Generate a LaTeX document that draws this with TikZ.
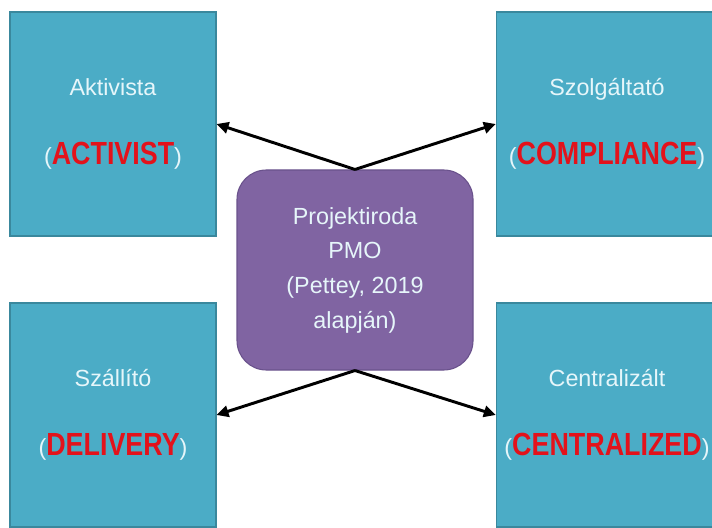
\documentclass[tikz,border=0pt]{standalone}
\usepackage{fontspec}
\setmainfont{Liberation Sans}
\newfontfamily\condbf[FakeStretch=0.84]{Liberation Sans Bold}
\usepackage{xcolor}
\usetikzlibrary{positioning, arrows.meta}

\definecolor{boxteal}{HTML}{4BACC6}
\definecolor{boxedge}{HTML}{3A889D}
\definecolor{pmopurple}{HTML}{8064A2}
\definecolor{pmoedge}{HTML}{6A528C}
\definecolor{paletext}{HTML}{E6F6FA}
\definecolor{typered}{HTML}{E3121B}

\newcommand{\typename}[1]{({\condbf\fontsize{24}{26}\selectfont\color{typered}#1})}

\begin{document}
\begin{tikzpicture}[
    x=0.75pt, y=-0.75pt,
    type/.style={rectangle, draw=boxedge, line width=0.8pt, fill=boxteal, text=paletext, minimum width=154.5pt, minimum height=168pt, align=center, font=\fontsize{17.5}{26}\selectfont},
    pmo/.style={rectangle, draw=pmoedge, line width=0.8pt, fill=pmopurple, text=paletext, minimum width=177pt, minimum height=150pt, rounded corners=22pt, align=center, font=\fontsize{17.5}{26}\selectfont},
    link/.style={line width=2.2pt, -{Triangle[length=9pt, width=8.5pt]}}
]
    \useasboundingbox (0,0) rectangle (712,527);

    % Four PMO types
    \node[type] (activist) at (113,124) {Aktivista\\[26pt]\typename{ACTIVIST}};
    \node[type, minimum width=166pt] (compliance) at (607,124) {Szolgáltató\\[26pt]\typename{COMPLIANCE}};
    \node[type] (delivery) at (113,415) {Szállító\\[26pt]\typename{DELIVERY}};
    \node[type, minimum width=166pt] (centralized) at (607,415) {Centralizált\\[26pt]\typename{CENTRALIZED}};

    % Central box
    \node[pmo] (office) at (355,270) {Projektiroda\\PMO\\(Pettey, 2019\\alapján)};

    % Arrows
    \draw[link] (office.north) -- (activist.east);
    \draw[link] (office.north) -- (compliance.west);
    \draw[link] (office.south) -- (delivery.east);
    \draw[link] (office.south) -- (centralized.west);
\end{tikzpicture}
\end{document}
